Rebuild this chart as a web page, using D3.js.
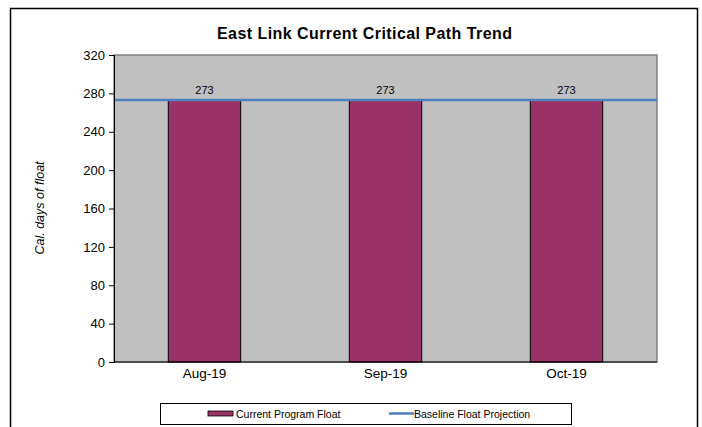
<!DOCTYPE html>
<html>
<head>
<meta charset="utf-8">
<script src="https://cdn.jsdelivr.net/npm/d3@7"></script>
<style>
  body { margin: 0; background: #fff; }
  text { font-family: "Liberation Sans", Arial, sans-serif; }
</style>
</head>
<body>
<div id="chart"></div>
<script>
const months = ["Aug-19", "Sep-19", "Oct-19"];
const programFloat = [273, 273, 273];
const baselineFloat = 273;
const yTicks = [0, 40, 80, 120, 160, 200, 240, 280, 320];

const W = 702, H = 427;
const plot = {left: 114, top: 55, right: 657, bottom: 362};

const svg = d3.select("#chart").append("svg")
    .attr("width", W).attr("height", H);

// outer chart frame
svg.append("rect")
    .attr("x", 10.5).attr("y", 8.5)
    .attr("width", 687).attr("height", 430)
    .attr("fill", "#fff").attr("stroke", "#000").attr("stroke-width", 1.5);

svg.append("text")
    .attr("x", 217).attr("y", 39)
    .attr("textLength", 295).attr("lengthAdjust", "spacing")
    .style("font-size", "16px").style("font-weight", "bold")
    .text("East Link Current Critical Path Trend");

const x = d3.scaleBand()
    .domain(months)
    .range([plot.left, plot.right])
    .paddingInner(0.6).paddingOuter(0.3);

const y = d3.scaleLinear()
    .domain([0, 320])
    .range([plot.bottom, plot.top]);

// plot background
svg.append("rect")
    .attr("x", plot.left).attr("y", plot.top)
    .attr("width", plot.right - plot.left).attr("height", plot.bottom - plot.top)
    .attr("fill", "#c0c0c0").attr("stroke", "#808080").attr("stroke-width", 1.5);

// bars
svg.append("g").selectAll("rect")
    .data(programFloat)
    .enter().append("rect")
    .attr("x", (d, i) => x(months[i]))
    .attr("y", d => y(d))
    .attr("width", x.bandwidth())
    .attr("height", d => y(0) - y(d))
    .attr("fill", "#993366")
    .attr("stroke", "#000").attr("stroke-width", 1);

// baseline float line
svg.append("line")
    .attr("x1", plot.left).attr("x2", plot.right)
    .attr("y1", y(baselineFloat)).attr("y2", y(baselineFloat))
    .attr("stroke", "#4f81bd").attr("stroke-width", 2.5);

// data labels
svg.append("g").selectAll("text")
    .data(programFloat)
    .enter().append("text")
    .attr("x", (d, i) => x(months[i]) + x.bandwidth() / 2)
    .attr("y", d => y(d) - 6)
    .attr("text-anchor", "middle")
    .style("font-size", "11px")
    .text(d => d);

// y axis
const yAxis = svg.append("g")
    .attr("transform", "translate(" + plot.left + ",0)")
    .call(d3.axisLeft(y).tickValues(yTicks).tickSize(5).tickPadding(4));
yAxis.selectAll("text").style("font-size", "13px").attr("fill", "#000");
yAxis.selectAll("line, path").attr("stroke", "#000");

// x axis
const xAxis = svg.append("g")
    .attr("transform", "translate(0," + plot.bottom + ")")
    .call(d3.axisBottom(x).tickSize(0).tickPadding(6.5));
xAxis.selectAll("text").style("font-size", "13.5px").attr("fill", "#000");
xAxis.select(".domain").attr("stroke", "#000").attr("d", "M" + plot.left + ",0H" + plot.right);

svg.append("text")
    .attr("transform", "translate(44,208) rotate(-90)")
    .attr("text-anchor", "middle")
    .style("font-size", "12.5px").style("font-style", "italic")
    .text("Cal. days of float");

// legend
const lg = svg.append("g");
lg.append("rect")
    .attr("x", 160.5).attr("y", 403.5)
    .attr("width", 411).attr("height", 21)
    .attr("fill", "#fff").attr("stroke", "#000").attr("stroke-width", 1);
lg.append("rect")
    .attr("x", 208).attr("y", 411)
    .attr("width", 25).attr("height", 5)
    .attr("fill", "#993366").attr("stroke", "#000").attr("stroke-width", 0.8);
lg.append("text")
    .attr("x", 236).attr("y", 418)
    .style("font-size", "10.5px")
    .text("Current Program Float");
lg.append("line")
    .attr("x1", 389).attr("x2", 414)
    .attr("y1", 413.5).attr("y2", 413.5)
    .attr("stroke", "#4f81bd").attr("stroke-width", 2.5);
lg.append("text")
    .attr("x", 414).attr("y", 418)
    .style("font-size", "10.5px")
    .text("Baseline Float Projection");
</script>
</body>
</html>
